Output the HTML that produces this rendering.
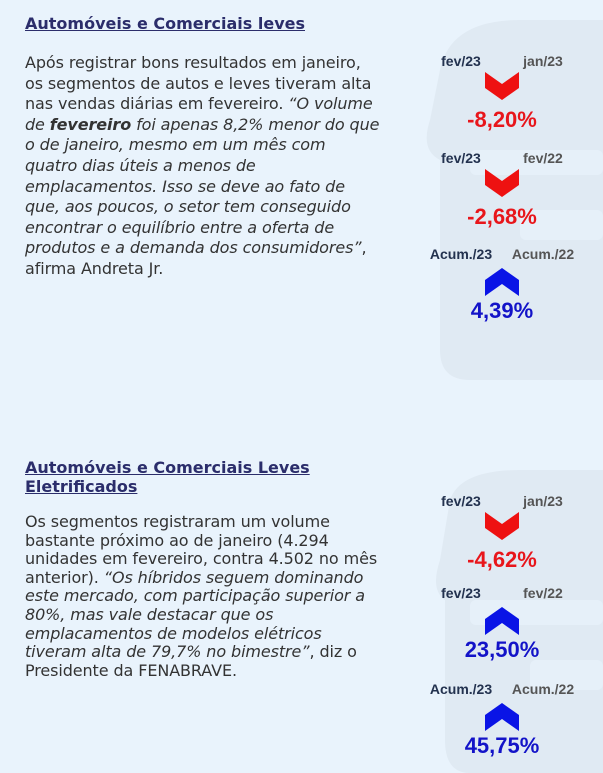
<!DOCTYPE html>
<html><head><meta charset="utf-8"><style>
body{margin:0;width:603px;height:773px;overflow:hidden;background:#e9f3fc;position:relative;font-family:"DejaVu Sans","Liberation Sans",sans-serif}
.abs{position:absolute;white-space:nowrap}
.title{color:#2b2d6b;font-weight:bold;font-size:16px;text-decoration:underline;line-height:19px}
.body1{color:#333;font-size:16px;line-height:20.6px;letter-spacing:-0.1px}
.body2{color:#333;font-size:16px;line-height:18.6px;letter-spacing:-0.1px}
.lab{font-family:"Liberation Sans",Arial,sans-serif;font-weight:bold;font-size:14px;transform:translateX(-50%)}
.val{font-family:"Liberation Sans",Arial,sans-serif;font-weight:bold;font-size:22px;transform:translateX(-50%)}
</style></head><body>
<svg class="abs" style="left:0;top:0" width="603" height="773">
<path d="M430 120 L440 70 Q450 20 520 20 L603 20 L603 380 L470 380 Q440 380 440 350 L440 160 Q420 150 430 120Z" fill="#e0eaf3"/>
<rect x="470" y="150" width="133" height="25" rx="6" fill="#e6f0f9"/>
<rect x="520" y="210" width="83" height="30" rx="6" fill="#e6f0f9"/>
<path d="M440 560 L450 500 Q460 470 520 470 L603 470 L603 773 L470 773 Q445 773 445 740 L445 600 Q430 590 440 560Z" fill="#e0eaf3"/>
<rect x="470" y="600" width="133" height="25" rx="6" fill="#e6f0f9"/>
<rect x="530" y="660" width="73" height="30" rx="6" fill="#e6f0f9"/>
</svg>
<div class="abs title" style="left:25px;top:14px">Automóveis e Comerciais leves</div>
<div class="abs body1" style="left:25px;top:53px">Após registrar bons resultados em janeiro,<br>os segmentos de autos e leves tiveram alta<br>nas vendas diárias em fevereiro. <i>“O volume<br>de <b>fevereiro</b> foi apenas 8,2% menor do que<br>o de janeiro, mesmo em um mês com<br>quatro dias úteis a menos de<br>emplacamentos. Isso se deve ao fato de<br>que, aos poucos, o setor tem conseguido<br>encontrar o equilíbrio entre a oferta de<br>produtos e a demanda dos consumidores”</i>,<br>afirma Andreta Jr.</div>
<div class="abs title" style="left:25px;top:458px">Automóveis e Comerciais Leves<br>Eletrificados</div>
<div class="abs body2" style="left:25px;top:513px">Os segmentos registraram um volume<br>bastante próximo ao de janeiro (4.294<br>unidades em fevereiro, contra 4.502 no mês<br>anterior). <i>“Os híbridos seguem dominando<br>este mercado, com participação superior a<br>80%, mas vale destacar que os<br>emplacamentos de modelos elétricos<br>tiveram alta de 79,7% no bimestre”</i>, diz o<br>Presidente da FENABRAVE.</div>
<script>
const leftLabels=["fev/23","fev/23","Acum./23","fev/23","fev/23","Acum./23"];
const rightLabels=["jan/23","fev/22","Acum./22","jan/23","fev/22","Acum./22"];
const values=[-8.20,-2.68,4.39,-4.62,23.50,45.75];
const tops=[53,150,246,493,585,681];
const root=document.body;
function fmt(v){return v.toFixed(2).replace('.',',')+'%';}
for(let i=0;i<values.length;i++){
  const t=tops[i],v=values[i],up=v>=0,col=up?'#1313c8':'#e8161b';
  const l=document.createElement('div');l.className='abs lab';l.style.left='461px';l.style.top=t+'px';l.style.color='#23324f';l.textContent=leftLabels[i];
  
  
  root.appendChild(l);
  const r=document.createElement('div');r.className='abs lab';r.style.left='543px';r.style.top=t+'px';r.style.color='#555';r.textContent=rightLabels[i];
  
  
  root.appendChild(r);
  const s=document.createElementNS('http://www.w3.org/2000/svg','svg');
  s.setAttribute('class','abs');s.setAttribute('width','34');s.setAttribute('height','28');
  s.style.left='485px';s.style.top=(t+(up?22:19))+'px';
  s.innerHTML=up?'<polygon points="0,28 17,16 34,28 34,12 17,0 0,12" fill="#0a14e6"/>':'<polygon points="0,0 17,12 34,0 34,16 17,28 0,16" fill="#ee1111"/>';
  
  
  root.appendChild(s);
  const val=document.createElement('div');val.className='abs val';val.style.left='502px';val.style.top=(t+(up?52:54))+'px';val.style.color=col;val.textContent=fmt(v);
  
  
  root.appendChild(val);
}
</script>
</body></html>
